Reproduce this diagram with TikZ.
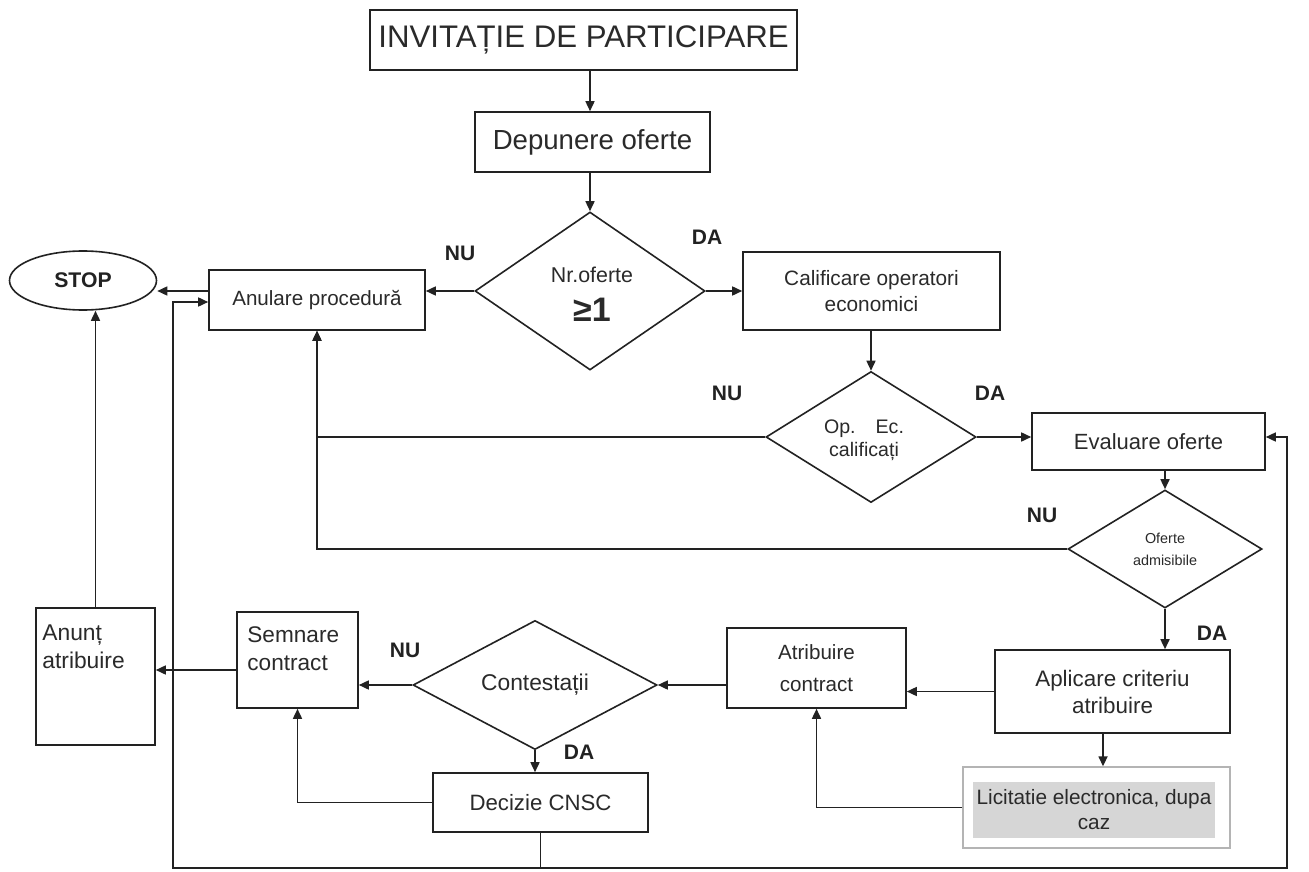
\documentclass[tikz,border=0pt]{standalone}
\usepackage{fontspec}
\setmainfont{Liberation Sans}
\usetikzlibrary{shapes.geometric,arrows.meta}
\definecolor{linec}{HTML}{222222}
\definecolor{txt}{HTML}{2A2A2A}
\definecolor{licb}{HTML}{B4B4B4}
\definecolor{licf}{HTML}{D6D6D6}
\begin{document}
\begin{tikzpicture}[x=0.5pt,y=-0.5pt,
 box/.style={draw=linec,line width=0.8pt,inner sep=0pt,align=center,text=txt},
 dia/.style={diamond,draw=linec,line width=0.8pt,inner sep=0pt,align=center,text=txt},
 lbl/.style={font=\fontsize{10.5pt}{12pt}\selectfont\bfseries,text=linec,inner sep=0pt},
 txtn/.style={inner sep=0pt,text=txt,align=left},
 arr/.style={draw=linec,line width=0.8pt,-{Triangle[length=5pt,width=4.5pt]}},
 ln/.style={draw=linec,line width=0.8pt}]
\useasboundingbox (0,0) rectangle (1309,871);
\fill[white] (0,0) rectangle (1309,871);

% nodes
\node[box,minimum width=213.5pt,minimum height=30pt,font=\fontsize{15.6pt}{18pt}\selectfont] (inv) at (583.5,40) {INVITAȚIE DE PARTICIPARE};
\node[box,minimum width=117.5pt,minimum height=30pt,font=\fontsize{13.8pt}{16pt}\selectfont] (dep) at (592.5,142) {Depunere oferte};
\node[dia,minimum width=115pt,minimum height=79pt] (d1) at (590,291) {};
\node[txtn,font=\fontsize{10.7pt}{13pt}\selectfont] (d1a) at (592,275) {Nr.oferte};
\node[txtn,font=\fontsize{17pt}{18pt}\selectfont\bfseries] (d1b) at (592,310) {≥1};
\node[box,minimum width=108pt,minimum height=30pt,font=\fontsize{10.3pt}{12pt}\selectfont] (anul) at (317,300) {Anulare procedură};
\node[ellipse,draw=linec,line width=0.8pt,minimum width=73.5pt,minimum height=29.5pt,inner sep=0pt,text=linec,font=\fontsize{10.6pt}{12pt}\selectfont\bfseries] (stop) at (83,280.5) {STOP};
\node[box,minimum width=128.5pt,minimum height=39pt,font=\fontsize{10.4pt}{13pt}\selectfont] (calif) at (871.5,291) {Calificare operatori\\economici};
\node[dia,minimum width=105pt,minimum height=65.5pt] (d2) at (871,437) {};
\node[txtn,align=center,font=\fontsize{9.8pt}{11.5pt}\selectfont] (d2t) at (864,440) {Op.\hspace{10pt}Ec.\\calificați};
\node[box,minimum width=116.5pt,minimum height=28.5pt,font=\fontsize{11pt}{13pt}\selectfont] (eval) at (1148.5,441.5) {Evaluare oferte};
\node[dia,minimum width=97pt,minimum height=59pt,font=\fontsize{7.2pt}{11pt}\selectfont] (d3) at (1165,549) {Oferte\\admisibile};
\node[box,minimum width=117.5pt,minimum height=41.5pt,font=\fontsize{11.2pt}{13.5pt}\selectfont] (apl) at (1112.5,691.5) {Aplicare criteriu\\atribuire};
\node[box,minimum width=89.5pt,minimum height=40pt,font=\fontsize{10.3pt}{16pt}\selectfont] (atr) at (816.5,668) {Atribuire\\contract};
\node[draw=licb,line width=0.7pt,minimum width=133.5pt,minimum height=40.5pt,inner sep=0pt] (lic) at (1096.5,807.5) {};
\node[fill=licf,minimum width=121pt,minimum height=28pt,inner sep=0pt,align=center,text=txt,font=\fontsize{10.4pt}{12.5pt}\selectfont] (licin) at (1094,810) {Licitatie electronica, dupa\\caz};
\node[dia,minimum width=122pt,minimum height=60pt,font=\fontsize{11.4pt}{13pt}\selectfont] (cont) at (535,685) {Contestații};
\node[box,minimum width=60.5pt,minimum height=48pt] (semn) at (297.5,660) {};
\node[txtn,anchor=north west,font=\fontsize{11.3pt}{14pt}\selectfont] (semnt) at (247,626) {Semnare\\contract};
\node[box,minimum width=107.5pt,minimum height=29.5pt,font=\fontsize{11.1pt}{13pt}\selectfont] (dec) at (540.5,802.5) {Decizie CNSC};
\node[box,minimum width=59.5pt,minimum height=68.5pt] (anunt) at (95.5,676.5) {};
\node[txtn,anchor=north west,font=\fontsize{11.4pt}{14pt}\selectfont] (anuntt) at (42,624) {Anunț\\atribuire};

% labels
\node[lbl] (l1) at (460,253) {NU};
\node[lbl] (l2) at (707,237) {DA};
\node[lbl] (l3) at (727,393) {NU};
\node[lbl] (l4) at (990,393) {DA};
\node[lbl] (l5) at (1042,515) {NU};
\node[lbl] (l6) at (1212,633) {DA};
\node[lbl] (l7) at (405,650) {NU};
\node[lbl] (l8) at (579,752) {DA};

% connectors
\draw[arr] (d1.north |- inv.south) -- (d1.north |- dep.north);
\draw[arr] (d1.north |- dep.south) -- (d1.north);
\draw[arr] (d1.west) -- (d1.west -| anul.east);
\draw[arr] ([yshift=4.5pt]anul.west) -- ([yshift=4.5pt]anul.west -| stop.east);
\draw[arr] (d1.east) -- (d1.east -| calif.west);
\draw[arr] (d2.north |- calif.south) -- (d2.north);
\draw[arr] (d2.east) -- (d2.east -| eval.west);
\draw[arr] (d2.west) -| (anul.south);
\draw[arr] (d3.north |- eval.south) -- (d3.north);
\draw[arr] (d3.west) -| (anul.south);
\draw[arr] (d3.south) -- (d3.south |- apl.north);
\draw[arr] (apl.west) -- (apl.west -| atr.east);
\draw[arr] ([xshift=-4.75pt]apl.south) -- ([xshift=-4.75pt]apl.south |- lic.north);
\draw[arr] (lic.west) -| (atr.south);
\draw[arr] (cont.east -| atr.west) -- (cont.east);
\draw[arr] (cont.west) -- (cont.west -| semn.east);
\draw[arr] (cont.south) -- (cont.south |- dec.north);
\draw[arr] (dec.west) -| (semn.south);
\draw[arr] ([yshift=-5pt]semn.west) -- ([yshift=-5pt]semn.west -| anunt.east);
\draw[arr] (anunt.north) -- (anunt.north |- stop.south);

\coordinate (bl) at (173,868);
\coordinate (br) at (1287,868);
\draw[ln] (dec.south) -- (dec.south |- bl);
\draw[arr] (dec.south |- bl) -- (bl) |- ([yshift=-1pt]anul.west);
\draw[arr] (dec.south |- bl) -- (br) |- ([yshift=2.25pt]eval.east);
\end{tikzpicture}
\end{document}
